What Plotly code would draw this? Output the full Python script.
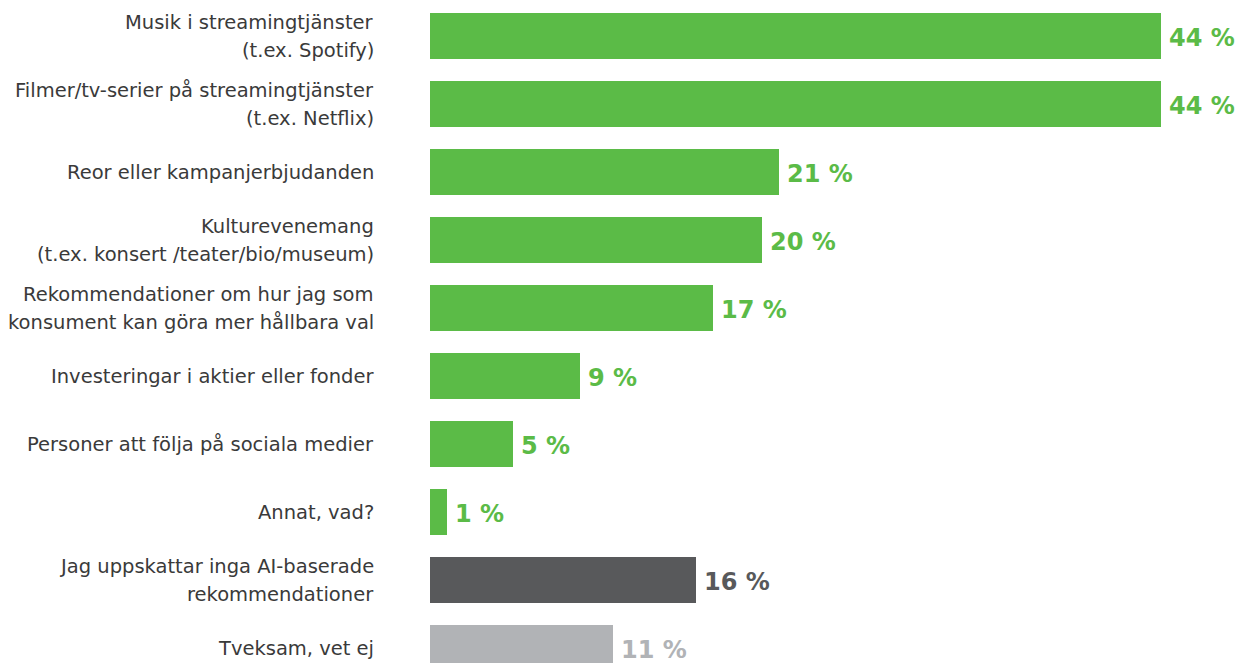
import plotly.graph_objects as go

categories = [
    "Musik i streamingtjänster<br>(t.ex. Spotify)",
    "Filmer/tv-serier på streamingtjänster<br>(t.ex. Netflix)",
    "Reor eller kampanjerbjudanden",
    "Kulturevenemang<br>(t.ex. konsert /teater/bio/museum)",
    "Rekommendationer om hur jag som<br>konsument kan göra mer hållbara val",
    "Investeringar i aktier eller fonder",
    "Personer att följa på sociala medier",
    "Annat, vad?",
    "Jag uppskattar inga AI-baserade<br>rekommendationer",
    "Tveksam, vet ej",
]
values = [44, 44, 21, 20, 17, 9, 5, 1, 16, 11]
value_labels = ["44 %", "44 %", "21 %", "20 %", "17 %", "9 %", "5 %", "1 %", "16 %", "11 %"]

GREEN = "#5bbb47"
DARK = "#58595b"
LIGHT = "#b1b3b6"
colors = [GREEN] * 8 + [DARK, LIGHT]

W, H = 1237, 663
x0_px = 430
px_per_unit = 16.62
pitch = 68
first_center = 36
FONT = "DejaVu Sans, sans-serif"

ypos = list(range(len(categories)))

fig = go.Figure()
fig.add_trace(go.Bar(
    x=values, y=ypos, orientation="h",
    marker=dict(color=colors, line=dict(width=0)),
    width=46 / pitch,
    hoverinfo="skip",
))

annotations = []
for i, (v, lab, c) in enumerate(zip(values, value_labels, colors)):
    annotations.append(dict(
        x=v, y=i, xref="x", yref="y", text=f"<b>{lab}</b>",
        showarrow=False, xanchor="left", yanchor="middle", xshift=6, yshift=-2,
        font=dict(family=FONT, size=24, color=c),
    ))
for i, cat in enumerate(categories):
    lines = cat.split("<br>")
    n = len(lines)
    for j, line in enumerate(lines):
        shift = ((n - 1) / 2 - j) * 28
        annotations.append(dict(
            x=376 / W, y=i, xref="paper", yref="y", text=line,
            showarrow=False, xanchor="right", yanchor="middle", align="right",
            yshift=shift,
            font=dict(family=FONT, size=19.5, color="#3a3a3a"),
        ))

xmax = (W - x0_px) / px_per_unit
ytop = -first_center / pitch
ybot = (H - first_center) / pitch

fig.update_layout(
    width=W, height=H,
    margin=dict(l=0, r=0, t=0, b=0),
    paper_bgcolor="white", plot_bgcolor="white",
    showlegend=False,
    annotations=annotations,
    xaxis=dict(domain=[x0_px / W, 1], range=[0, xmax], visible=False, fixedrange=True),
    yaxis=dict(range=[ybot, ytop], visible=False, fixedrange=True),
    bargap=0,
)

fig.write_html("out.html", config={"displayModeBar": False})
